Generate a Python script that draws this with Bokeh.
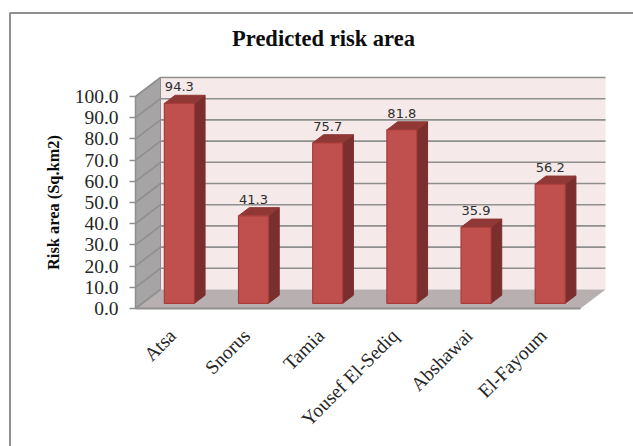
import math

from bokeh.core.properties import value
from bokeh.embed import file_html
from bokeh.models import ColumnDataSource, FixedTicker, Range1d
from bokeh.plotting import figure
from bokeh.resources import INLINE

# Chart content
title_text = "Predicted risk area"
y_title = "Risk area (Sq.km2)"
districts = ["Atsa", "Snorus", "Tamia", "Yousef El-Sediq", "Abshawai", "El-Fayoum"]
risk_area = [94.3, 41.3, 75.7, 81.8, 35.9, 56.2]
y_ticks = [0, 10, 20, 30, 40, 50, 60, 70, 80, 90, 100]

# Page layout, in pixels: where the front corner of the plot sits and how big a unit is
WIDTH, HEIGHT = 633, 446
ORIGIN_X, ORIGIN_Y = 135, 308
PX_PER_CATEGORY = 74.17
PX_PER_VALUE = 2.12

# Oblique projection: a point at depth d (0 front, 1 back) is shifted right and up
DEPTH_X = 25 / PX_PER_CATEGORY
DEPTH_Y = 19 / PX_PER_VALUE
BAR_WIDTH = 0.404
BAR_FRONT = 0.27
BAR_BACK = 0.70


def project(x, v, d):
    return x + d * DEPTH_X, v + d * DEPTH_Y


def quad(points):
    xy = [project(*pt) for pt in points]
    return [q[0] for q in xy], [q[1] for q in xy]


def page_x(px):
    return (px - ORIGIN_X) / PX_PER_CATEGORY


def page_y(px):
    return (ORIGIN_Y - px) / PX_PER_VALUE


n = len(districts)

# The frame fills the page, so the axes are pinned inside it at the plot's front corner
p = figure(
    width=WIDTH, height=HEIGHT, output_backend="svg", toolbar_location=None,
    x_range=Range1d(page_x(0), page_x(WIDTH)), y_range=Range1d(page_y(HEIGHT), page_y(0)),
    min_border=0, background_fill_color="white", border_fill_color="white",
)
p.outline_line_color = None
p.grid.visible = False

# Outer chart frame: its right and bottom edges run off the page
p.line([page_x(9.5), page_x(9.5), page_x(WIDTH + 5)], [page_y(HEIGHT + 5), page_y(12.5), page_y(12.5)],
       line_color="#909090", line_width=2)

# Title and axis caption
p.text([page_x(323)], [page_y(38)], text=[title_text], text_align="center", text_baseline="middle",
       text_font=value("Liberation Serif"), text_font_style="bold", text_font_size="22.5px",
       text_color="#0d0d0d")
p.text([page_x(53)], [page_y(202)], text=[y_title], angle=math.pi / 2,
       text_align="center", text_baseline="middle",
       text_font=value("Liberation Serif"), text_font_style="bold", text_font_size="16.4px",
       text_color="#0d0d0d")

# Walls and floor
wx, wy = quad([(0, 0, 1), (n, 0, 1), (n, 100, 1), (0, 100, 1)])
p.patch(wx, wy, fill_color="#f5e9e9", line_color=None)
sx, sy = quad([(0, 0, 0), (0, 0, 1), (0, 100, 1), (0, 100, 0)])
p.patch(sx, sy, fill_color="#a6a4a4", line_color="#8e8e8e", line_width=1)
fx, fy = quad([(0, 0, 0), (n, 0, 0), (n, 0, 1), (0, 0, 1)])
p.patch(fx, fy, fill_color="#b8b0b0", line_color=None)

# Gridlines run along the back wall and across the side wall
for t in y_ticks:
    gx, gy = quad([(0, t, 0), (0, t, 1), (n, t, 1)])
    if t == 0:
        gx, gy = gx[:2], gy[:2]
    p.line(gx, gy, line_color="#8f8f8f", line_width=1.6)
p.line(*quad([(0, 0, 0), (n, 0, 0)]), line_color="#8f8f8f", line_width=2)

# Bars: side and top faces first, then the front
for i, v in enumerate(risk_area):
    x0 = i + 0.5 - BAR_WIDTH / 2
    x1 = i + 0.5 + BAR_WIDTH / 2
    p.patch(*quad([(x1, 0, BAR_FRONT), (x1, 0, BAR_BACK), (x1, v, BAR_BACK), (x1, v, BAR_FRONT)]),
            fill_color="#7a2f2e", line_color="#7a2f2e")
    p.patch(*quad([(x0, v, BAR_FRONT), (x1, v, BAR_FRONT), (x1, v, BAR_BACK), (x0, v, BAR_BACK)]),
            fill_color="#8f3836", line_color="#8f3836")
    p.patch(*quad([(x0, 0, BAR_FRONT), (x1, 0, BAR_FRONT), (x1, v, BAR_FRONT), (x0, v, BAR_FRONT)]),
            fill_color="#c0504d", line_color="#a83c3a", line_width=1.2)

# Value labels sit above each bar's top face
lx = [project(i + 0.5, v, BAR_FRONT)[0] for i, v in enumerate(risk_area)]
ly = [project(i + 0.5, v, BAR_BACK)[1] for i, v in enumerate(risk_area)]
labels = ColumnDataSource(dict(x=lx, y=ly, text=[f"{v:.1f}" for v in risk_area]))
p.text("x", "y", "text", source=labels, text_align="center", text_baseline="bottom",
       text_font=value("DejaVu Sans"), text_font_size="13px", text_color="#2e2e2e", y_offset=-4)

# Axes
yaxis = p.yaxis[0]
yaxis.fixed_location = 0
yaxis.ticker = FixedTicker(ticks=y_ticks)
yaxis.bounds = (0, 100)
yaxis.major_label_overrides = {t: f"{t:.1f}" for t in y_ticks}
yaxis.major_label_text_font = "Liberation Serif"
yaxis.major_label_text_font_size = "19.5px"
yaxis.major_label_text_color = "#262626"
yaxis.major_label_standoff = 11
yaxis.major_tick_in = 0
yaxis.major_tick_out = 6
yaxis.minor_tick_line_color = None
yaxis.major_tick_line_color = "#8f8f8f"
yaxis.major_tick_line_width = 1.5
yaxis.axis_line_color = "#8f8f8f"
yaxis.axis_line_width = 1.5

xaxis = p.xaxis[0]
xaxis.fixed_location = 0
xaxis.ticker = FixedTicker(ticks=[i + 0.5 for i in range(n)])
xaxis.major_label_overrides = {i + 0.5: d for i, d in enumerate(districts)}
xaxis.major_label_orientation = 0.785
xaxis.major_label_text_font = "Liberation Serif"
xaxis.major_label_text_font_size = "19.5px"
xaxis.major_label_text_color = "#262626"
xaxis.major_label_standoff = 18
xaxis.major_tick_line_color = None
xaxis.minor_tick_line_color = None
xaxis.axis_line_color = None

open("out.html", "w").write(file_html(p, INLINE))
